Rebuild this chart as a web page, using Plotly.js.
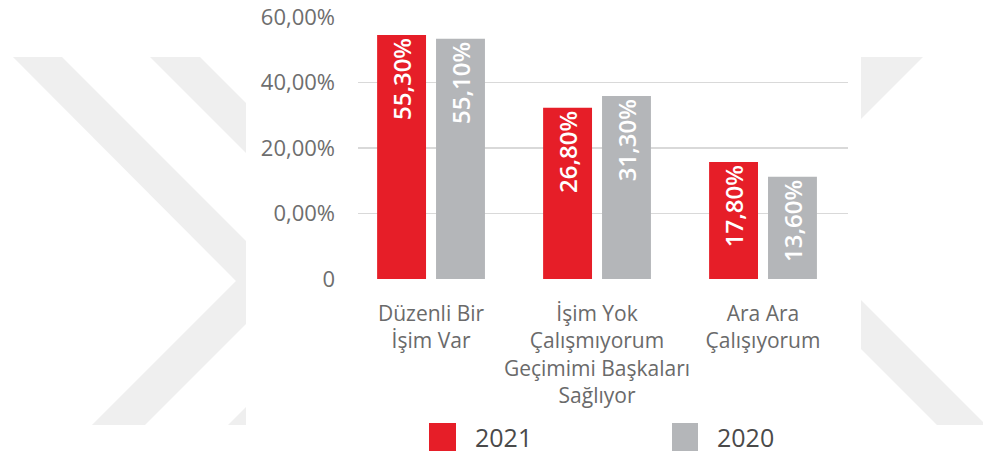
<!DOCTYPE html>
<html>
<head>
<meta charset="utf-8">
<script src="https://cdn.plot.ly/plotly-3.0.1.min.js"></script>
<style>html,body{margin:0;padding:0;background:#fff;}#chart{width:983px;height:458px;}</style>
</head>
<body>
<div id="chart"></div>
<script>
// ---- data ----
const categories = ["Düzenli Bir<br>İşim Var", "İşim Yok<br>Çalışmıyorum<br>Geçimimi Başkaları<br>Sağlıyor", "Ara Ara<br>Çalışıyorum"];
const seriesNames = ["2021", "2020"];
// printed values on the bars
const values2021 = [55.3, 26.8, 17.8];
const values2020 = [55.1, 31.3, 13.6];
// bar heights as drawn, read against the chart's own gridlines
const heights2021 = [55.9, 39.2, 26.8];
const heights2020 = [55.0, 41.9, 23.4];
const tickVals = [0, 15, 30, 45, 60];
const tickText = ["0", "0,00%", "20,00%", "40,00%", "60,00%"];

const RED = "#e61e28";
const GRAY = "#b4b6b9";
const W = 983, H = 458;
const M = {l: 358, r: 135, t: 17, b: 179};
const PW = W - M.l - M.r, PH = H - M.t - M.b;
const fx = x => (x - M.l) / PW;
const fy = y => (H - M.b - y) / PH;
const poly = pts => "M" + pts.map(p => fx(p[0]).toFixed(4) + "," + fy(p[1]).toFixed(4)).join("L") + "Z";

const fmt = v => v.toFixed(2).replace(".", ",") + "%";

const barText = {family: "Open Sans", size: 24, color: "#ffffff", weight: 600};

const traces = [
  {type: "bar", name: seriesNames[0], x: categories, y: heights2021,
   text: values2021.map(fmt), textposition: "inside", insidetextanchor: "end", textangle: -90,
   textfont: barText, marker: {color: RED}, showlegend: false, hoverinfo: "skip", constraintext: "none"},
  {type: "bar", name: seriesNames[1], x: categories, y: heights2020,
   text: values2020.map(fmt), textposition: "inside", insidetextanchor: "end", textangle: -90,
   textfont: barText, marker: {color: GRAY}, showlegend: false, hoverinfo: "skip", constraintext: "none"}
];

const WM = "#efefef";
const watermark = [
  [[13,57],[62,57],[246,241],[246,324],[145,425],[92,425],[236,281]],
  [[150,57],[200,57],[246,103],[246,153]],
  [[228,425],[246,407],[246,425]],
  [[861,57],[923,57],[861,119]],
  [[861,300],[983,422],[983,425],[937,425],[861,349]]
].map(p => ({type: "path", xref: "paper", yref: "paper", path: poly(p), fillcolor: WM, line: {width: 0}, layer: "below"}));

const legendShapes = [
  {type: "rect", xref: "paper", yref: "paper", x0: fx(429), x1: fx(456), y0: fy(451), y1: fy(423), fillcolor: RED, line: {width: 0}},
  {type: "rect", xref: "paper", yref: "paper", x0: fx(672), x1: fx(698), y0: fy(451), y1: fy(423), fillcolor: GRAY, line: {width: 0}}
];

const legendText = [
  {xref: "paper", yref: "paper", x: fx(473), y: fy(437), xanchor: "left", yanchor: "middle", text: seriesNames[0], showarrow: false,
   font: {family: "Open Sans", size: 25, color: "#4a4a4a"}},
  {xref: "paper", yref: "paper", x: fx(715), y: fy(437), xanchor: "left", yanchor: "middle", text: seriesNames[1], showarrow: false,
   font: {family: "Open Sans", size: 25, color: "#4a4a4a"}}
];

const layout = {
  width: W, height: H,
  margin: M,
  paper_bgcolor: "#ffffff",
  plot_bgcolor: "rgba(0,0,0,0)",
  barmode: "group",
  bargap: 0.29,
  bargroupgap: 0.17,
  showlegend: false,
  xaxis: {
    type: "category", range: [-0.44, 2.512], showgrid: false, zeroline: false, showline: false,
    ticks: "", ticklabelstandoff: 20,
    tickfont: {family: "Open Sans", size: 21, color: "#6a6a6a"}
  },
  yaxis: {
    range: [0, 60], tickvals: tickVals, ticktext: tickText,
    showgrid: true, gridcolor: "#d9d9d9", gridwidth: 1.5, zeroline: false, showline: false,
    ticks: "", ticklabelstandoff: 22,
    tickfont: {family: "Open Sans", size: 22, color: "#6e6e6e"}
  },
  shapes: watermark.concat(legendShapes),
  annotations: legendText,
  font: {family: "Open Sans"}
};

Plotly.newPlot("chart", traces, layout, {displayModeBar: false, staticPlot: true});
</script>
</body>
</html>
